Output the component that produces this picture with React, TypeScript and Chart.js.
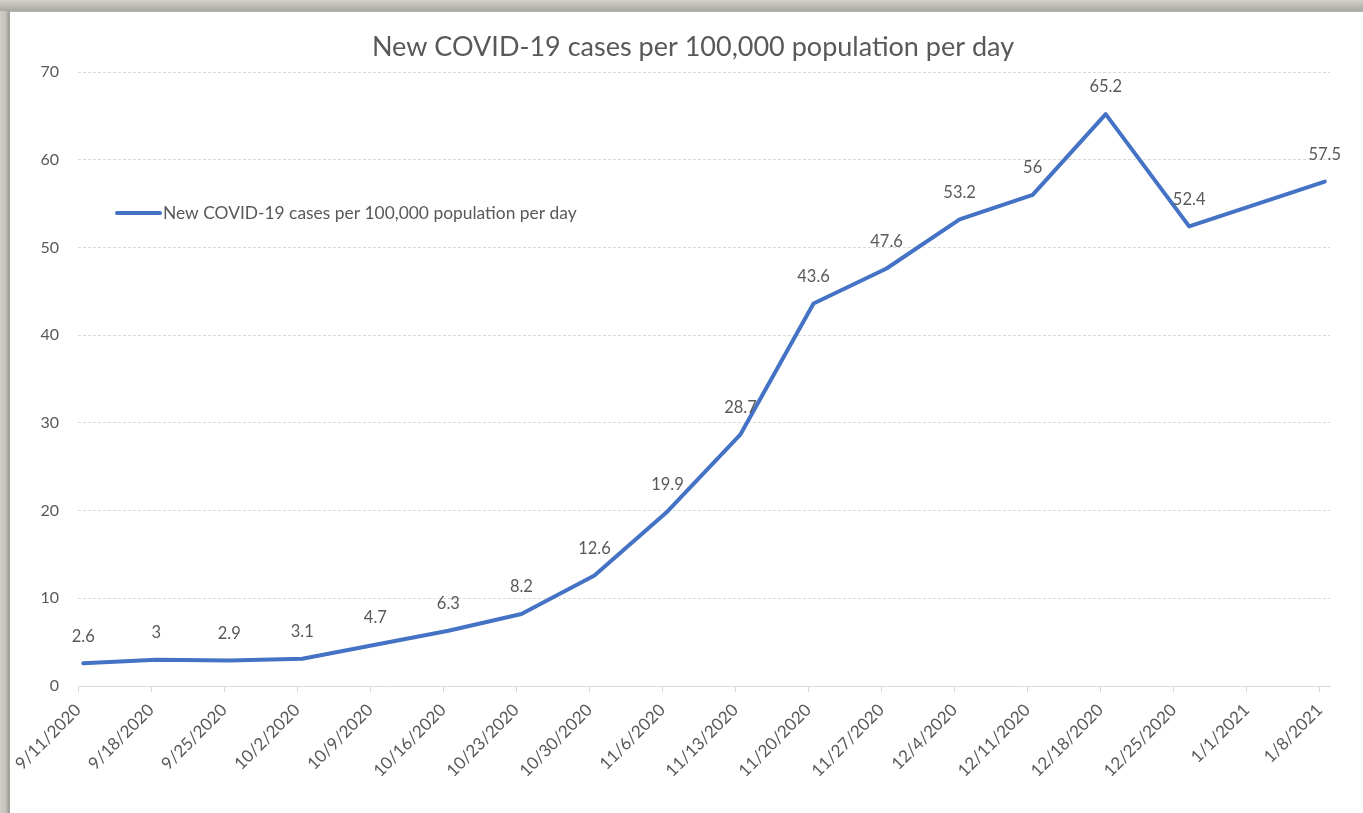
import React, { useEffect, useRef } from "react";
import { Chart, registerables } from "chart.js";

Chart.register(...registerables);

const chartTitle = "New COVID-19 cases per 100,000 population per day";
const seriesLabel = "New COVID-19 cases per 100,000 population per day";

// Week tick labels (date axis, one tick per 7 days starting 9/11/2020)
const tickLabels = [
  "9/11/2020", "9/18/2020", "9/25/2020", "10/2/2020", "10/9/2020", "10/16/2020",
  "10/23/2020", "10/30/2020", "11/6/2020", "11/13/2020", "11/20/2020", "11/27/2020",
  "12/4/2020", "12/11/2020", "12/18/2020", "12/25/2020", "1/1/2021", "1/8/2021",
];
// Days since 9/11/2020 for each tick
const tickDays = [0, 7, 14, 21, 28, 35, 42, 49, 56, 63, 70, 77, 84, 91, 98, 105, 112, 119];

// Data points: day since 9/11/2020 and value (no report for 1/1/2021)
const pointDays = [0, 7, 14, 21, 28, 35, 42, 49, 56, 63, 70, 77, 84, 91, 98, 106, 119];
const caseValues = [2.6, 3, 2.9, 3.1, 4.7, 6.3, 8.2, 12.6, 19.9, 28.7, 43.6, 47.6, 53.2, 56, 65.2, 52.4, 57.5];

const yTicks = [0, 10, 20, 30, 40, 50, 60, 70];

const LINE_COLOR = "#4472C4";
const TEXT_COLOR = "#595959";
const GRID_COLOR = "#d9d9d9";
const FONT = "Lato, 'Open Sans', sans-serif";

const overlayPlugin = {
  id: "overlay",
  afterDatasetsDraw(chart: any) {
    const ctx = chart.ctx;
    const area = chart.chartArea;
    ctx.save();
    // data labels
    const meta = chart.getDatasetMeta(0);
    ctx.fillStyle = TEXT_COLOR;
    ctx.font = `16.5px ${FONT}`;
    ctx.textAlign = "center";
    ctx.textBaseline = "middle";
    meta.data.forEach((pt: any, i: number) => {
      const v = chart.data.datasets[0].data[i].y;
      ctx.fillText(String(v), pt.x, pt.y - 27);
    });
    // title
    ctx.font = `27px ${FONT}`;
    ctx.fillText(chartTitle, 683, 35);
    // legend inside plot area
    ctx.strokeStyle = LINE_COLOR;
    ctx.lineWidth = 4;
    ctx.lineCap = "round";
    ctx.beginPath();
    ctx.moveTo(area.left + 39, area.top + 141);
    ctx.lineTo(area.left + 82, area.top + 141);
    ctx.stroke();
    ctx.font = `17.4px ${FONT}`;
    ctx.textAlign = "left";
    ctx.fillText(seriesLabel, area.left + 85, area.top + 141);
    ctx.restore();
  },
};

export default function App() {
  const ref = useRef<HTMLCanvasElement | null>(null);

  useEffect(() => {
    if (!ref.current) return;
    const chart = new Chart(ref.current, {
      type: "line",
      data: {
        datasets: [
          {
            label: seriesLabel,
            data: pointDays.map((d, i) => ({ x: d, y: caseValues[i] })),
            borderColor: LINE_COLOR,
            backgroundColor: LINE_COLOR,
            borderWidth: 4,
            pointRadius: 0,
            pointHoverRadius: 0,
            tension: 0,
            borderJoinStyle: "round",
            borderCapStyle: "round",
          },
        ],
      },
      options: {
        responsive: false,
        animation: false,
        devicePixelRatio: 1,
        layout: { padding: { top: 60, right: 33, left: 0, bottom: 0 } },
        plugins: {
          legend: { display: false },
          title: { display: false },
          tooltip: { enabled: false },
        },
        scales: {
          x: {
            type: "linear",
            min: -0.5,
            max: 119.5,
            afterBuildTicks: (scale: any) => {
              scale.ticks = tickDays.map((d) => ({ value: d - 0.5 }));
            },
            afterFit: (scale: any) => {
              scale.height = 127;
            },
            ticks: {
              autoSkip: false,
              minRotation: 45,
              maxRotation: 45,
              padding: 8,
              color: TEXT_COLOR,
              font: { family: FONT, size: 17 },
              callback: (_v: any, i: number) => tickLabels[i],
            },
            grid: {
              drawOnChartArea: false,
              drawTicks: true,
              tickLength: 6,
              color: GRID_COLOR,
            },
            border: { display: true, color: GRID_COLOR, dash: [3, 2] },
          },
          y: {
            min: 0,
            max: 70,
            afterBuildTicks: (scale: any) => {
              scale.ticks = yTicks.map((v) => ({ value: v }));
            },
            afterFit: (scale: any) => {
              scale.width = 68;
            },
            ticks: {
              padding: 19,
              color: TEXT_COLOR,
              font: { family: FONT, size: 16 },
            },
            grid: { drawTicks: false, color: GRID_COLOR },
            border: { display: false, dash: [3, 2] },
          },
        },
      },
      plugins: [overlayPlugin],
    } as any);
    return () => chart.destroy();
  }, []);

  return (
    <div
      style={{
        position: "fixed",
        left: 0,
        top: 0,
        width: 1363,
        height: 813,
        background: "linear-gradient(180deg, #d2d2ca 0px, #a9a9a1 11px, #c4c4bc 12px)",
        overflow: "hidden",
      }}
    >
      <div
        style={{
          position: "absolute",
          left: 0,
          top: 11,
          width: 10,
          height: 802,
          background: "linear-gradient(90deg, #d0d0c8 0px, #c0c0b8 6px, #9a9a92 9px, #b0b0a8 10px)",
        }}
      />
      <div
        style={{
          position: "absolute",
          left: 10,
          top: 12,
          width: 1353,
          height: 801,
          background: "#ffffff",
        }}
      >
        <canvas ref={ref} width={1353} height={801} style={{ display: "block" }} />
      </div>
    </div>
  );
}
